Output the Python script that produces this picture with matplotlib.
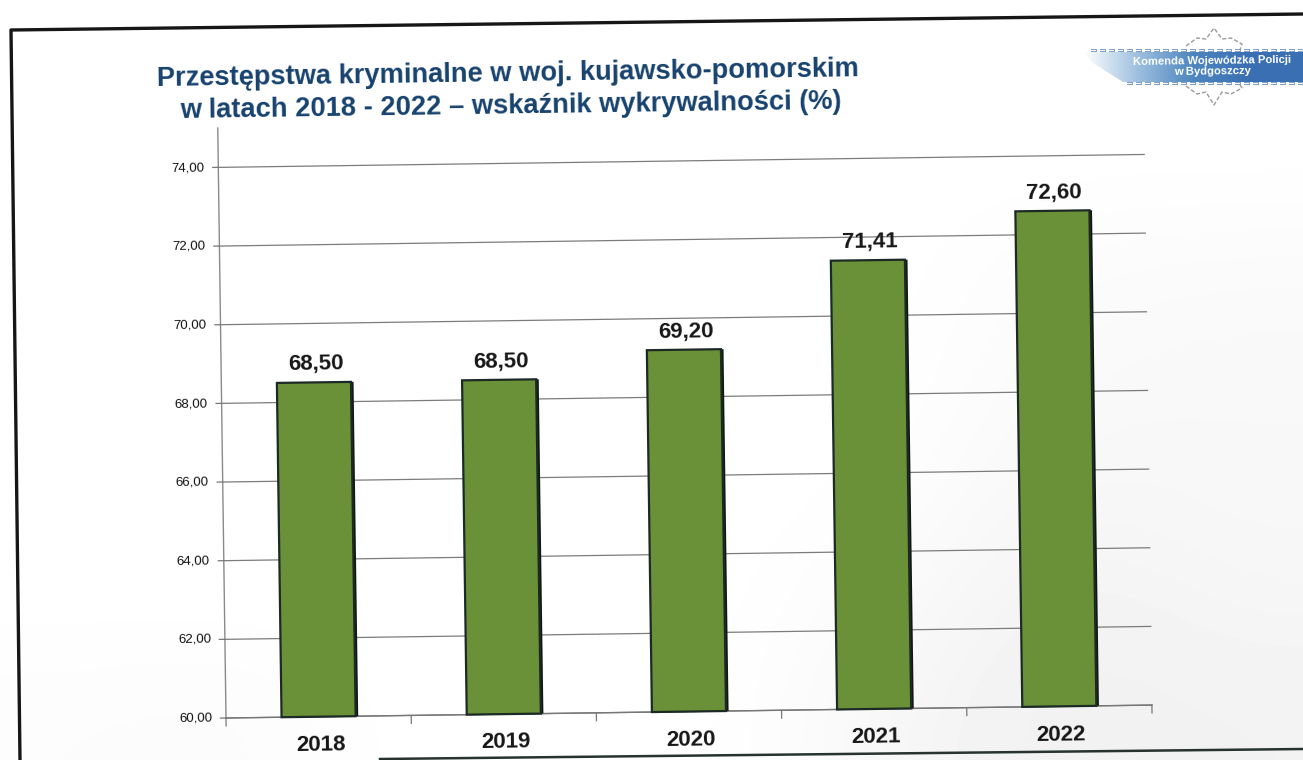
import matplotlib
matplotlib.use("Agg")
import numpy as np
import matplotlib.pyplot as plt
from matplotlib.lines import Line2D
from matplotlib.patches import Polygon, Rectangle
from matplotlib.transforms import Affine2D

# scanned slide, so everything sits on a slight tilt

years = ["2018", "2019", "2020", "2021", "2022"]
values = [68.50, 68.50, 69.20, 71.41, 72.60]
value_labels = ["68,50", "68,50", "69,20", "71,41", "72,60"]
y_ticks = [60, 62, 64, 66, 68, 70, 72, 74]
y_tick_labels = ["60,00", "62,00", "64,00", "66,00", "68,00", "70,00", "72,00", "74,00"]

# grey levels of the faint watermark, coarse grid over the whole picture
watermark = [
    [255, 255, 255, 255, 255, 255, 255, 255],
    [255, 255, 255, 255, 255, 255, 255, 255],
    [255, 255, 255, 255, 255, 255, 251, 250],
    [255, 255, 255, 255, 255, 255, 249, 248],
    [255, 255, 255, 255, 255, 254, 246, 248],
    [255, 255, 255, 255, 255, 250, 242, 246],
    [252, 251, 255, 255, 255, 246, 240, 242],
]

W = 1303
H = 760
TILT = 0.8

plt.rcParams["font.family"] = ["Liberation Sans", "DejaVu Sans"]

fig = plt.figure(figsize=(W / 100, H / 100), dpi=100)


def px(xs, ys):
    # picture pixels (from top left) to figure fractions
    return np.array(xs) / W, 1 - np.array(ys) / H


# faint watermark behind the chart
bg = fig.add_axes([0, 0, 1, 1], zorder=-1)
bg.imshow(watermark, cmap="gray", vmin=0, vmax=255, aspect="auto", interpolation="bicubic")
bg.axis("off")

# axes rectangle in pixels (left, top of y=75, right, bottom)
left, top, right, bottom = 226, 128, 1152, 718
ax = fig.add_axes([left / W, 1 - bottom / H, (right - left) / W, (bottom - top) / H])
ax.set_xlim(-0.5, 4.5)
ax.set_ylim(60, 75)
ax.patch.set_visible(False)
ax.axis("off")

tilt = Affine2D().rotate_deg_around(left, H - bottom, TILT)
tr = ax.transData + tilt


def put(artist):
    artist.set_transform(tr)
    artist.set_clip_on(False)
    return artist


# gridlines
for v in y_ticks:
    put(ax.plot([-0.5, 4.5], [v, v], color="#7c7c7c", lw=0.9, zorder=1)[0])

# axis lines
put(ax.plot([-0.5, -0.5], [60, 75], color="#8a8a8a", lw=1.0, zorder=1)[0])
put(ax.plot([-0.5, 4.5], [60, 60], color="#777777", lw=1.0, zorder=1)[0])

# tick marks and labels
for v, lab in zip(y_ticks, y_tick_labels):
    put(ax.plot([-0.53, -0.5], [v, v], color="#777777", lw=0.9)[0])
    t = ax.text(-0.575, v, lab, ha="right", va="center", fontsize=9.5, color="#111111",
                rotation=TILT, rotation_mode="anchor")
    put(t)

for i in range(6):
    put(ax.plot([i - 0.5, i - 0.5], [60, 59.8], color="#777777", lw=0.9)[0])

# bars, with the darker right hand edge
for i, (year, val, lab) in enumerate(zip(years, values, value_labels)):
    shade = Rectangle((i - 0.2 + 0.014, 60), 0.4, val - 60, fc="#111714", ec="none", zorder=2)
    put(shade)
    ax.add_patch(shade)
    bar = ax.bar(i, val - 60, 0.4, bottom=60, color="#6b9138", edgecolor="#1c2a26", linewidth=1.6, zorder=3)
    put(bar[0])
    t = ax.text(i + 0.01, val + 0.2, lab, ha="center", va="bottom", fontsize=16, fontweight="bold",
                color="#161616", rotation=TILT, rotation_mode="anchor", zorder=4)
    put(t)
    t = ax.text(i + 0.008, 59.28, year, ha="center", va="center", fontsize=16, fontweight="bold",
                color="#161616", rotation=TILT, rotation_mode="anchor")
    put(t)

# title
title_color = "#17426e"
tx, ty = px(508, 74)
fig.text(tx, ty, "Przestępstwa kryminalne w woj. kujawsko-pomorskim", ha="center", va="center",
         fontsize=19.6, fontweight="bold", color=title_color, rotation=TILT, rotation_mode="anchor")
tx, ty = px(511, 106)
fig.text(tx, ty, "w latach 2018 - 2022 – wskaźnik wykrywalności (%)", ha="center", va="center",
         fontsize=19.6, fontweight="bold", color=title_color, rotation=TILT, rotation_mode="anchor")

# frame of the scanned slide
fx, fy = px([1303, 11, 20], [14, 30, 760])
fig.add_artist(Line2D(fx, fy, color="#161616", lw=2.4))
fx, fy = px([380, 1303], [759, 749])
fig.add_artist(Line2D(fx, fy, color="#27332f", lw=1.8))

# police star outline behind the logo
star_x = [1186, 1197, 1206, 1214, 1222, 1231, 1242, 1240]
star_top = [46, 38, 39, 28, 39, 38, 44, 50]
star_bottom = [86, 94, 92, 105, 92, 94, 88, 85]
sx, sy = px(star_x, star_top)
fig.add_artist(Line2D(sx, sy, color="#9a9a9a", lw=1.0, ls=(0, (3, 1.5))))
sx, sy = px(star_x, star_bottom)
fig.add_artist(Line2D(sx, sy, color="#9a9a9a", lw=1.0, ls=(0, (3, 1.5))))

# logo banner
banner = fig.add_axes([1083 / W, 1 - 85 / H, 220 / W, 37 / H])
ramp = np.linspace(0, 1, 256).reshape(1, -1)
cmap = matplotlib.colors.LinearSegmentedColormap.from_list("banner", ["#ffffff", "#9dbfdf", "#4d86bf", "#3a70b3", "#3a70b3"])
img = banner.imshow(ramp, cmap=cmap, aspect="auto", extent=[0, 220, 0, 37])
banner.axis("off")
edge = Polygon([(0, 33), (220, 33), (220, 3), (40, 3), (10, 22)], closed=True, transform=banner.transData, fc="none", ec="none")
banner.add_patch(edge)
img.set_clip_path(edge)
for x0 in np.arange(8, 220, 9):
    banner.add_patch(Rectangle((x0, 33), 6, 3, fc="#7f9fc6", ec="none"))
    banner.add_patch(Rectangle((x0, 33.7), 5, 1.6, fc="white", ec="none"))
    if x0 > 40:
        banner.add_patch(Rectangle((x0, 0.5), 6, 2.5, fc="#7f9fc6", ec="none"))
        banner.add_patch(Rectangle((x0, 1), 5, 1.5, fc="white", ec="none"))
banner.set_xlim(0, 220)
banner.set_ylim(0, 37)
tx, ty = px(1212, 61)
fig.text(tx, ty, "Komenda Wojewódzka Policji", ha="center", va="center", fontsize=8.1,
         fontweight="bold", color="white", rotation=TILT, rotation_mode="anchor")
tx, ty = px(1212, 71)
fig.text(tx, ty, "w Bydgoszczy", ha="center", va="center", fontsize=8.1,
         fontweight="bold", color="white", rotation=TILT, rotation_mode="anchor")

fig.savefig("out.png", dpi=100)
